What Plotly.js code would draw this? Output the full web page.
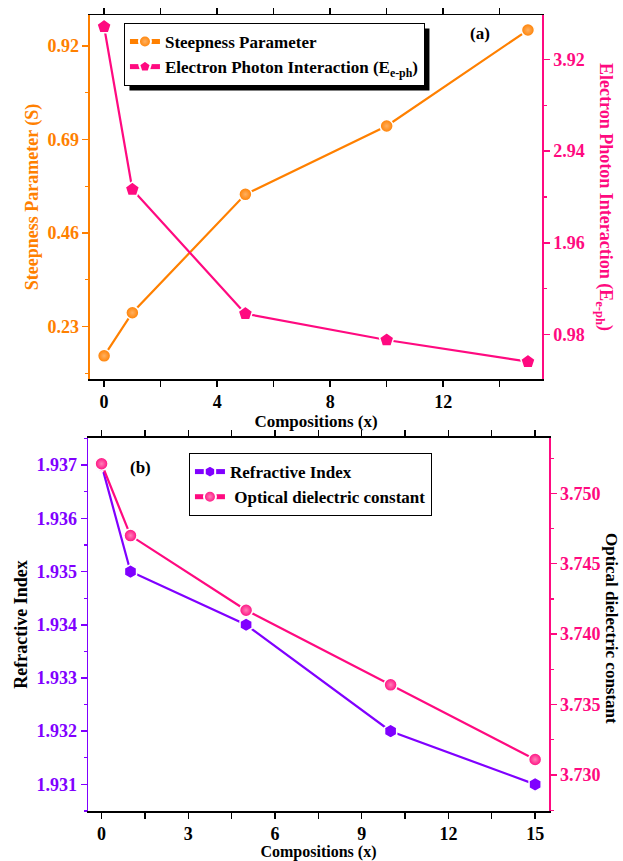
<!DOCTYPE html>
<html>
<head>
<meta charset="utf-8">
<script src="https://cdn.plot.ly/plotly-3.0.1.min.js"></script>
<style>
  html, body { margin: 0; padding: 0; background: #fff; }
  #chart { width: 623px; height: 861px; }
</style>
</head>
<body>
<div id="chart"></div>
<script>
// Compositions (x)
const compositions = [0, 1, 5, 10, 15];

// Panel (a)
const steepness = [0.158, 0.264, 0.555, 0.723, 0.959];
const electronPhonon = [4.268, 2.531, 1.204, 0.923, 0.692];

// Panel (b)
const refractiveIndex = [1.937, 1.935, 1.934, 1.932, 1.931];
const dielectricConst = [3.7521, 3.7470, 3.7417, 3.7364, 3.7311];

// Tick positions
const ticksXa = [0, 4, 8, 12];
const ticksSteep = [0.23, 0.46, 0.69, 0.92];
const ticksEph = [0.98, 1.96, 2.94, 3.92];
const ticksXb = [0, 3, 6, 9, 12, 15];
const ticksRI = [1.931, 1.932, 1.933, 1.934, 1.935, 1.936, 1.937];
const ticksDiel = [3.730, 3.735, 3.740, 3.745, 3.750];

const ORANGE = '#FF8000';
const PINK = '#FF0A80';
const PURPLE = '#8000FF';
const FONT = 'Liberation Serif, Times New Roman, serif';

const tickFont = (c) => ({ family: FONT, size: 18, color: c });
// bold tick labels from tick values
const boldTicks = (vals, digits) => ({
  tickmode: 'array', tickvals: vals,
  ticktext: vals.map((v) => '<b>' + v.toFixed(digits) + '</b>')
});

const traces = [
  {
    x: compositions, y: steepness, name: '<b>Steepness Parameter</b>',
    xaxis: 'x', yaxis: 'y', mode: 'lines+markers', legend: 'legend',
    line: { color: ORANGE, width: 2.2 },
    marker: { symbol: 'circle', size: 13, color: ORANGE,
              gradient: { type: 'radial', color: '#FFB060' },
              line: { color: '#fff', width: 1.5 } }
  },
  {
    x: compositions, y: electronPhonon, name: '<b>Electron Photon Interaction (E<sub>e-ph</sub>)</b>',
    xaxis: 'x', yaxis: 'y2', mode: 'lines+markers', legend: 'legend',
    line: { color: PINK, width: 2.2 },
    marker: { symbol: 'pentagon', size: 15, color: PINK,
              line: { color: '#fff', width: 1.5 } }
  },
  {
    x: compositions, y: refractiveIndex, name: '<b>Refractive Index</b>',
    xaxis: 'x2', yaxis: 'y3', mode: 'lines+markers', legend: 'legend2',
    line: { color: PURPLE, width: 2.2 },
    marker: { symbol: 'hexagon', size: 14, color: PURPLE,
              line: { color: '#fff', width: 1.5 } }
  },
  {
    x: compositions, y: dielectricConst, name: '<b> Optical dielectric constant</b>',
    xaxis: 'x2', yaxis: 'y4', mode: 'lines+markers', legend: 'legend2',
    line: { color: PINK, width: 2.2 },
    marker: { symbol: 'circle', size: 13, color: PINK,
              gradient: { type: 'radial', color: '#FF80B8' },
              line: { color: '#fff', width: 1.5 } }
  }
];

const axisStyle = (c) => ({
  showgrid: false, zeroline: false, showline: true, linecolor: c, linewidth: 1.5,
  ticks: 'outside', ticklen: 6, tickwidth: 1.5, tickcolor: c,
  tickfont: tickFont(c)
});
const minor = (t0, d, c) => ({ tickmode: 'linear', tick0: t0, dtick: d,
  ticks: 'outside', ticklen: 3, tickwidth: 1.2, tickcolor: c });

const layout = {
  width: 623, height: 861,
  margin: { l: 88, r: 74, t: 15, b: 50 },
  paper_bgcolor: '#fff', plot_bgcolor: '#fff',
  font: { family: FONT, color: '#000' },
  showlegend: true,
  xaxis: Object.assign(axisStyle('#000'), boldTicks(ticksXa, 0), {
    domain: [0.0043, 0.985], anchor: 'y', range: [-0.5, 15.5], mirror: 'allticks',
    minor: minor(0, 2, '#000'),
    title: { text: '<b>Compositions (x)</b>', standoff: 3,
             font: { family: FONT, size: 17, color: '#000' } }
  }),
  yaxis: Object.assign(axisStyle(ORANGE), boldTicks(ticksSteep, 2), {
    domain: [0.5427, 1], anchor: 'x', range: [0.101, 0.996],
    minor: minor(0.23, 0.115, ORANGE),
    title: { text: '<b>Steepness Parameter (S)</b>', standoff: 4,
             font: { family: FONT, size: 18, color: ORANGE } }
  }),
  yaxis2: Object.assign(axisStyle(PINK), boldTicks(ticksEph, 2), {
    overlaying: 'y', side: 'right', anchor: 'x', range: [0.507, 4.393],
    minor: minor(0.98, 0.49, PINK)
  }),
  xaxis2: Object.assign(axisStyle('#000'), boldTicks(ticksXb, 0), {
    domain: [0, 1], anchor: 'y3', range: [-0.47, 15.48], mirror: 'allticks',
    minor: minor(0, 1.5, '#000'),
    title: { text: '<b>Compositions (x)</b>', standoff: 4,
             font: { family: FONT, size: 16, color: '#000' } }
  }),
  yaxis3: Object.assign(axisStyle(PURPLE), boldTicks(ticksRI, 3), {
    domain: [0, 0.4686], anchor: 'x2', range: [1.9305, 1.93751],
    minor: minor(1.931, 0.0005, PURPLE),
    title: { text: '<b>Refractive Index</b>', standoff: 4,
             font: { family: FONT, size: 18, color: '#000' } }
  }),
  yaxis4: Object.assign(axisStyle(PINK), boldTicks(ticksDiel, 3), {
    overlaying: 'y3', side: 'right', anchor: 'x2', range: [3.72744, 3.75393],
    minor: minor(3.730, 0.0025, PINK)
  }),
  legend: {
    x: 0.078, y: 0.99, xanchor: 'left', yanchor: 'top',
    bgcolor: '#fff', bordercolor: '#000', borderwidth: 1,
    font: { family: FONT, size: 17, color: '#000' },
    tracegroupgap: 0, itemsizing: 'constant'
  },
  legend2: {
    x: 0.219, y: 0.4497, xanchor: 'left', yanchor: 'top',
    bgcolor: '#fff', bordercolor: '#000', borderwidth: 1,
    font: { family: FONT, size: 17, color: '#000' },
    tracegroupgap: 0, itemsizing: 'constant'
  },
  annotations: [
    { text: '<b>(a)</b>', xref: 'paper', yref: 'paper', x: (480 - 88) / 461, y: (811 - 33) / 796,
      xanchor: 'center', yanchor: 'middle',
      showarrow: false, font: { family: FONT, size: 17, color: '#000' } },
    { text: '<b>(b)</b>', xref: 'paper', yref: 'paper', x: (140 - 88) / 461, y: (811 - 467) / 796,
      xanchor: 'center', yanchor: 'middle',
      showarrow: false, font: { family: FONT, size: 17, color: '#000' } },
    { text: '<b>Electron Photon Interaction (E<sub>e-ph</sub>)</b>', xref: 'paper', yref: 'paper',
      x: (605 - 88) / 461, y: (811 - 197) / 796, textangle: 90, showarrow: false,
      xanchor: 'center', yanchor: 'middle',
      font: { family: FONT, size: 18, color: PINK } },
    { text: '<b>Optical dielectric constant</b>', xref: 'paper', yref: 'paper',
      x: (612 - 88) / 461, y: (811 - 628) / 796, textangle: 90, showarrow: false,
      xanchor: 'center', yanchor: 'middle',
      font: { family: FONT, size: 17, color: '#000' } }
  ]
};

const gd = document.getElementById('chart');
Plotly.newPlot(gd, traces, layout, { displayModeBar: false, staticPlot: true }).then(() => {
  // Drop shadow offset behind each legend box, sized from the drawn legend.
  const fl = gd._fullLayout;
  const off = 5;
  const shapes = [];
  const root = gd.getBoundingClientRect();
  gd.querySelectorAll('g.legend rect.bg').forEach((bg) => {
    const box = bg.getBoundingClientRect();
    const left = box.left - root.left, top = box.top - root.top;
    const toX = (px) => (px - fl._size.l) / fl._size.w;
    const toY = (py) => 1 - (py - fl._size.t) / fl._size.h;
    shapes.push({
      type: 'rect', xref: 'paper', yref: 'paper', layer: 'below',
      x0: toX(left + off), x1: toX(left + box.width + off),
      y0: toY(top + box.height + off), y1: toY(top + off),
      fillcolor: '#000', line: { width: 0 }
    });
  });
  return Plotly.relayout(gd, { shapes: shapes });
});
</script>
</body>
</html>
